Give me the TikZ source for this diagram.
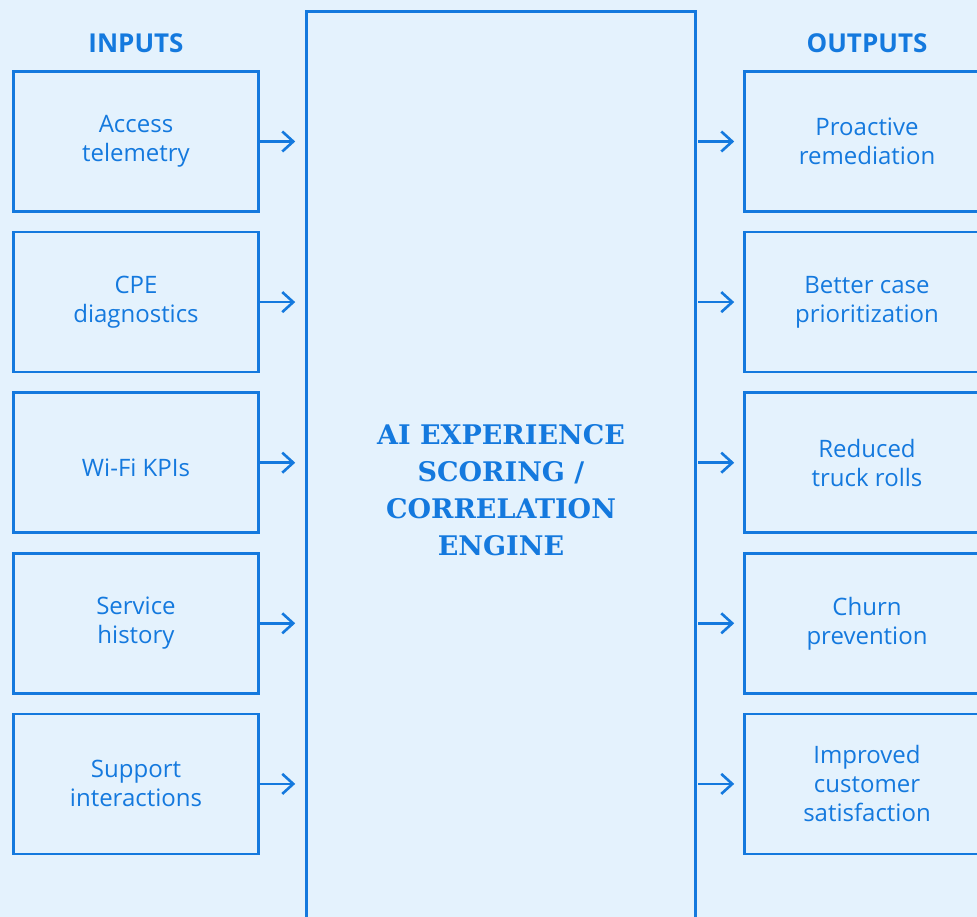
\documentclass[tikz,border=0pt]{standalone}
\usepackage{fontspec}
\setmainfont{Open Sans}
\newfontfamily\slabfont{DejaVu Serif}
\usepackage{xcolor}
\usetikzlibrary{positioning, arrows.meta}
\definecolor{linkblue}{HTML}{1479DE}
\definecolor{paleblue}{HTML}{E4F2FD}

\begin{document}
\begin{tikzpicture}[
    x=1pt, y=-1pt,
    node distance=18pt,
    box/.style={draw=linkblue, line width=2.6pt, rectangle, minimum height=140pt, minimum width=245pt, align=center, text=linkblue, inner sep=0pt, font=\fontsize{24}{29}\selectfont, execute at begin node={\rule{0pt}{28pt}}},
    head/.style={text=linkblue, font=\fontsize{26}{30}\selectfont\bfseries},
    arrow/.style={draw=linkblue, line width=2.6pt, -{Straight Barb[length=11pt, width=20pt]}}
]
\fill[paleblue] (0,0) rectangle (977,917);
\clip (0,0) rectangle (977,917);

% engine in the middle
\node[draw=linkblue, line width=2.6pt, minimum width=389pt, minimum height=957pt, inner sep=0pt, align=center, text=linkblue, font=\slabfont\bfseries\fontsize{27}{37}\selectfont] (engine) at (501,490) {AI EXPERIENCE\\SCORING /\\CORRELATION\\ENGINE};

% inputs
\node[head] (inputs) at (136,43) {INPUTS};
\node[box] (access) at (136,141.5) {Access\\telemetry};
\node[box, below=of access] (cpe) {CPE\\diagnostics};
\node[box, below=of cpe] (wifi) {Wi-Fi KPIs};
\node[box, below=of wifi] (history) {Service\\history};
\node[box, below=of history] (support) {Support\\interactions};

% outputs
\node[head] (outputs) at (867,43) {OUTPUTS};
\node[box] (remedy) at (867,141.5) {Proactive\\remediation};
\node[box, below=of remedy] (prio) {Better case\\prioritization};
\node[box, below=of prio] (truck) {Reduced\\truck rolls};
\node[box, below=of truck] (churn) {Churn\\prevention};
\node[box, below=of churn] (csat) {Improved\\customer\\satisfaction};

\foreach \src in {access, cpe, wifi, history, support}
    \draw[arrow, shorten >=10pt] (\src.east) -- (\src -| engine.west);
\foreach \dst in {remedy, prio, truck, churn, csat}
    \draw[arrow, shorten <=1.3pt, shorten >=9pt] (\dst -| engine.east) -- (\dst.west);
\end{tikzpicture}
\end{document}
